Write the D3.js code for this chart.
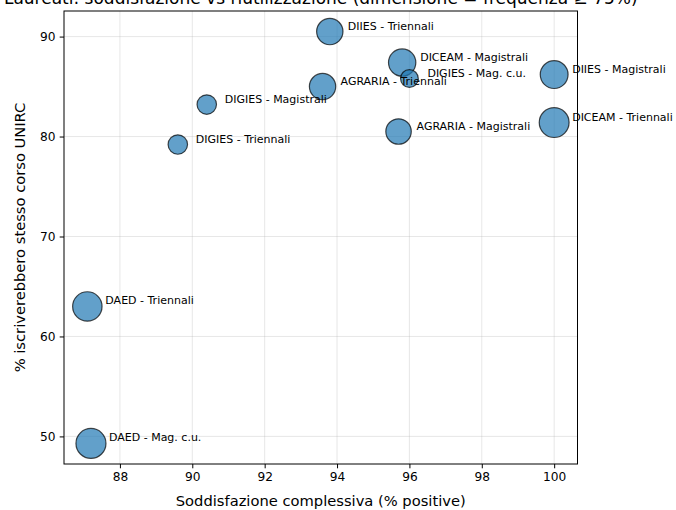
<!DOCTYPE html>
<html>
<head>
<meta charset="utf-8">
<script src="https://cdn.jsdelivr.net/npm/d3@7"></script>
<style>
  html, body { margin: 0; padding: 0; background: #fff; }
  svg { display: block; font-family: "DejaVu Sans", sans-serif; }
</style>
</head>
<body>
<svg id="chart" width="676" height="510"></svg>
<script>
const labels = ["DAED - Triennali", "DAED - Mag. c.u.", "DIGIES - Triennali", "DIGIES - Magistrali",
  "AGRARIA - Triennali", "DIIES - Triennali", "AGRARIA - Magistrali", "DICEAM - Magistrali",
  "DIGIES - Mag. c.u.", "DIIES - Magistrali", "DICEAM - Triennali"];
const soddisfazione = [87.1, 87.2, 89.6, 90.4, 93.6, 93.8, 95.7, 95.8, 96.0, 100, 100];
const reiscrizione = [63.0, 49.3, 79.2, 83.2, 85.0, 90.5, 80.5, 87.4, 85.8, 86.2, 81.4];
const frequenza = [96, 100, 42, 42, 77, 77, 72, 83, 35, 86, 99];
const xTicks = [88, 90, 92, 94, 96, 98, 100];
const yTicks = [50, 60, 70, 80, 90];
const title = "Laureati: soddisfazione vs riutilizzazione (dimensione = frequenza ≥ 75%)";
const xLabel = "Soddisfazione complessiva (% positive)";
const yLabel = "% iscriverebbero stesso corso UNIRC";

const m = { left: 64, right: 577.5, top: 11, bottom: 464 };
const svg = d3.select("#chart");

const xmin = d3.min(soddisfazione), xmax = d3.max(soddisfazione);
const ymin = d3.min(reiscrizione), ymax = d3.max(reiscrizione);
const xpad = (xmax - xmin) * 0.05, ypad = (ymax - ymin) * 0.05;
const x = d3.scaleLinear().domain([xmin - xpad, xmax + xpad]).range([m.left, m.right]);
const y = d3.scaleLinear().domain([ymin - ypad, ymax + ypad]).range([m.bottom, m.top]);
const r = d3.scaleSqrt().domain([0, 100]).range([0, 15]);

// grid
svg.append("g").selectAll("line").data(xTicks).join("line")
  .attr("x1", d => x(d)).attr("x2", d => x(d)).attr("y1", m.top).attr("y2", m.bottom)
  .attr("stroke", "#b0b0b0").attr("stroke-opacity", 0.3).attr("stroke-width", 1);
svg.append("g").selectAll("line").data(yTicks).join("line")
  .attr("y1", d => y(d)).attr("y2", d => y(d)).attr("x1", m.left).attr("x2", m.right)
  .attr("stroke", "#b0b0b0").attr("stroke-opacity", 0.3).attr("stroke-width", 1);

// axes
const xAxis = svg.append("g").attr("transform", `translate(0,${m.bottom})`)
  .call(d3.axisBottom(x).tickValues(xTicks).tickSize(4.3).tickPadding(4.3).tickFormat(d3.format("d")));
const yAxis = svg.append("g").attr("transform", `translate(${m.left},0)`)
  .call(d3.axisLeft(y).tickValues(yTicks).tickSize(4.3).tickPadding(4.3).tickFormat(d3.format("d")));
[xAxis, yAxis].forEach(a => {
  a.select(".domain").remove();
  a.selectAll(".tick line").attr("stroke", "#000").attr("stroke-width", 1);
  a.selectAll(".tick text").attr("font-size", 12.2).attr("fill", "#000")
    .attr("font-family", "DejaVu Sans, sans-serif");
});

// points
const data = labels.map((l, i) => ({ l, sx: soddisfazione[i], ry: reiscrizione[i], f: frequenza[i] }));
svg.append("g").selectAll("circle").data(data).join("circle")
  .attr("cx", d => x(d.sx)).attr("cy", d => y(d.ry)).attr("r", d => r(d.f))
  .attr("fill", "#1f77b4").attr("fill-opacity", 0.7)
  .attr("stroke", "#000").attr("stroke-opacity", 0.7).attr("stroke-width", 1.2);

// spines
svg.append("rect").attr("x", m.left).attr("y", m.top)
  .attr("width", m.right - m.left).attr("height", m.bottom - m.top)
  .attr("fill", "none").attr("stroke", "#000").attr("stroke-width", 1);

// annotations
svg.append("g").selectAll("text").data(data).join("text")
  .attr("x", d => x(d.sx) + 18).attr("y", d => y(d.ry) - 2)
  .attr("font-size", 11).attr("fill", "#000").text(d => d.l);

// labels
svg.append("text").attr("x", (m.left + m.right) / 2).attr("y", 506)
  .attr("text-anchor", "middle").attr("font-size", 14.7).attr("fill", "#000").text(xLabel);
svg.append("text").attr("transform", `translate(25,${(m.top + m.bottom) / 2}) rotate(-90)`)
  .attr("text-anchor", "middle").attr("font-size", 14.7).attr("fill", "#000").text(yLabel);
svg.append("text").attr("x", (m.left + m.right) / 2).attr("y", 4)
  .attr("text-anchor", "middle").attr("font-size", 17).attr("fill", "#000").text(title);
</script>
</body>
</html>
